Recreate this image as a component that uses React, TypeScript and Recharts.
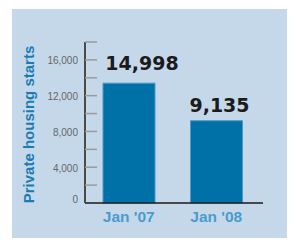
import { BarChart, Bar, XAxis, YAxis, LabelList, Label } from 'recharts';

const months = ["Jan '07", "Jan '08"];
// bar heights as drawn in the graphic (the first bar is drawn shorter than its printed figure)
const barHeights = [13400, 9200];
const printedValues = ['14,998', '9,135'];
const yTicks = [0, 2000, 4000, 6000, 8000, 10000, 12000, 14000, 16000, 18000];

// per-bar label placement
const LABEL_NUDGE = [
  { dx: 13, gap: 13 },
  { dx: 3, gap: 9 },
];

const data = months.map((m, i) => ({ month: m, starts: barHeights[i], printed: printedValues[i] }));

function YTick({ x, y, payload }: any) {
  const v = payload.value;
  const axisX = x + 7;
  const show = v % 4000 === 0;
  return (
    <g>
      {v !== 0 && <line x1={axisX} x2={axisX + 12} y1={y} y2={y} stroke="#9a9a9a" strokeWidth={1.5} />}
      {show && (
        <text x={x} y={v === 0 ? y - 4 : y + 1} textAnchor="end" dominantBaseline="central"
          fill="#666" fontSize={10} fontFamily="Liberation Sans, Arial, sans-serif">
          {v.toLocaleString('en-US')}
        </text>
      )}
    </g>
  );
}

function ValueLabel({ x, y, width, index }: any) {
  const n = LABEL_NUDGE[index];
  return (
    <text x={x + width / 2 + n.dx} y={y - n.gap} textAnchor="middle" fill="#1b1b1b"
      fontSize={19} fontWeight="bold" fontFamily="DejaVu Sans, sans-serif">
      {printedValues[index]}
    </text>
  );
}

function YTitle({ viewBox }: any) {
  const cx = viewBox.x + 34;
  const cy = viewBox.y + viewBox.height / 2 + 2;
  return (
    <text x={cx} y={cy} transform={`rotate(-90, ${cx}, ${cy})`} textAnchor="middle" fill="#1a7cb6"
      fontSize={15} fontWeight="bold" fontFamily="Liberation Sans, Arial, sans-serif">
      Private housing starts
    </text>
  );
}

export default function App() {
  return (
    <div style={{ position: 'fixed', left: 0, top: 0, width: 296, height: 250, background: '#fff' }}>
      <div style={{ position: 'absolute', left: 12, top: 9, width: 275, height: 229, background: '#c5d8ea' }} />
      <div style={{ position: 'absolute', left: 0, top: 0 }}>
        <BarChart width={296} height={250} data={data} margin={{ top: 42, right: 33, bottom: 17, left: 0 }}>
          <XAxis dataKey="month" height={30} padding={{ left: 0, right: 3 }} tickLine={false} tickSize={0} tickMargin={8}
            axisLine={{ stroke: '#1a1a1a', strokeWidth: 1.3 }}
            tick={{ fill: '#4a9bd0', fontSize: 15.5, fontWeight: 'bold', fontFamily: 'Liberation Sans, Arial, sans-serif' }} />
          <YAxis width={85} domain={[0, 18000]} ticks={yTicks} interval={0} tickSize={0} tickMargin={7}
            tickLine={false} axisLine={{ stroke: '#4a4a4a', strokeWidth: 2 }} tick={<YTick />}>
            <Label content={<YTitle />} />
          </YAxis>
          <Bar dataKey="starts" barSize={52} fill="#0071a7" stroke="#4f97c8" strokeWidth={1} isAnimationActive={false}>
            <LabelList dataKey="starts" content={<ValueLabel />} />
          </Bar>
        </BarChart>
      </div>
    </div>
  );
}
